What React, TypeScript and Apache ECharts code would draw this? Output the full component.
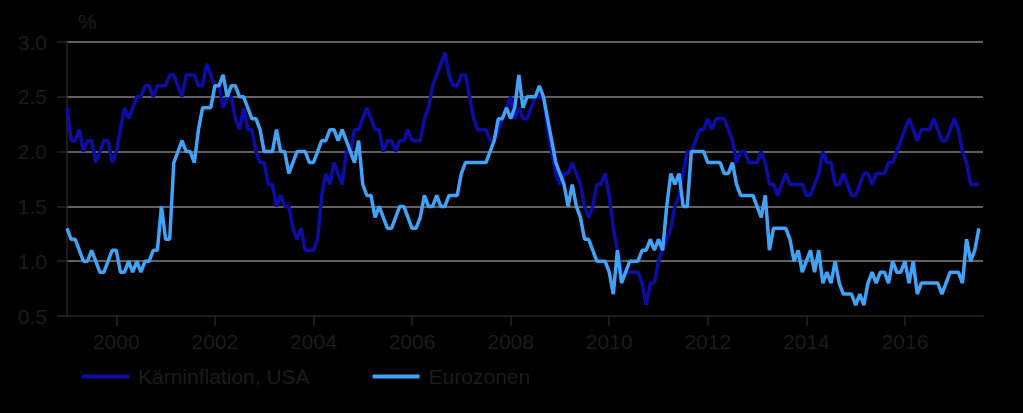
import React, { useEffect, useRef } from "react";
import * as echarts from "echarts";

// Monthly categories, Jan 1999 .. Aug 2017 (last month is empty padding)
const startYear = 1999;
const monthCount = 224;
const months: string[] = [];
for (let i = 0; i < monthCount; i++) {
  const y = startYear + Math.floor(i / 12);
  const m = (i % 12) + 1;
  months.push(`${y}-${m < 10 ? "0" + m : m}`);
}

const tickYears = ["2000", "2002", "2004", "2006", "2008", "2010", "2012", "2014", "2016"];
const yTicks = [0.5, 1.0, 1.5, 2.0, 2.5, 3.0];

const seriesNames = ["Kärninflation, USA", "Eurozonen"];

// Kärninflation, USA (% y/y), monthly from Jan 1999
const usaCore: number[] = [
  2.4, 2.1, 2.1, 2.2, 2.0, 2.1, 2.1, 1.9, 2.0, 2.1, 2.1, 1.9,
  2.0, 2.2, 2.4, 2.3, 2.4, 2.5, 2.5, 2.6, 2.6, 2.5, 2.6, 2.6,
  2.6, 2.7, 2.7, 2.6, 2.5, 2.7, 2.7, 2.7, 2.6, 2.6, 2.8, 2.7,
  2.6, 2.6, 2.4, 2.5, 2.5, 2.3, 2.2, 2.4, 2.2, 2.2, 2.0, 1.9,
  1.9, 1.7, 1.7, 1.5, 1.6, 1.5, 1.5, 1.3, 1.2, 1.3, 1.1, 1.1,
  1.1, 1.2, 1.6, 1.8, 1.7, 1.9, 1.8, 1.7, 2.0, 2.0, 2.2, 2.2,
  2.3, 2.4, 2.3, 2.2, 2.2, 2.0, 2.1, 2.1, 2.0, 2.1, 2.1, 2.2,
  2.1, 2.1, 2.1, 2.3, 2.4, 2.6, 2.7, 2.8, 2.9, 2.7, 2.6, 2.6,
  2.7, 2.7, 2.5, 2.3, 2.2, 2.2, 2.2, 2.1, 2.1, 2.2, 2.3, 2.4,
  2.5, 2.3, 2.4, 2.3, 2.3, 2.4, 2.5, 2.5, 2.5, 2.2, 2.0, 1.8,
  1.7, 1.8, 1.8, 1.9, 1.8, 1.7, 1.5, 1.4, 1.5, 1.7, 1.7, 1.8,
  1.6, 1.3, 1.1, 0.9, 0.9, 0.9, 0.9, 0.9, 0.8, 0.6, 0.8, 0.8,
  1.0, 1.1, 1.2, 1.3, 1.5, 1.6, 1.8, 2.0, 2.0, 2.1, 2.2, 2.2,
  2.3, 2.2, 2.3, 2.3, 2.3, 2.2, 2.1, 1.9, 2.0, 2.0, 1.9, 1.9,
  1.9, 2.0, 1.9, 1.7, 1.7, 1.6, 1.7, 1.8, 1.7, 1.7, 1.7, 1.7,
  1.6, 1.6, 1.7, 1.8, 2.0, 1.9, 1.9, 1.7, 1.7, 1.8, 1.7, 1.6,
  1.6, 1.7, 1.8, 1.8, 1.7, 1.8, 1.8, 1.8, 1.9, 1.9, 2.0, 2.1,
  2.2, 2.3, 2.2, 2.1, 2.2, 2.2, 2.2, 2.3, 2.2, 2.1, 2.1, 2.2,
  2.3, 2.2, 2.0, 1.9, 1.7, 1.7, 1.7,
];

// Eurozonen (% y/y), monthly from Jan 1999
const euroCore: number[] = [
  1.3, 1.2, 1.2, 1.1, 1.0, 1.0, 1.1, 1.0, 0.9, 0.9, 1.0, 1.1,
  1.1, 0.9, 0.9, 1.0, 0.9, 1.0, 0.9, 1.0, 1.0, 1.1, 1.1, 1.5,
  1.2, 1.2, 1.9, 2.0, 2.1, 2.0, 2.0, 1.9, 2.2, 2.4, 2.4, 2.4,
  2.6, 2.6, 2.7, 2.5, 2.6, 2.6, 2.5, 2.5, 2.4, 2.3, 2.3, 2.2,
  2.0, 2.0, 2.0, 2.2, 2.0, 2.0, 1.8, 1.9, 2.0, 2.0, 2.0, 1.9,
  1.9, 2.0, 2.1, 2.1, 2.2, 2.2, 2.1, 2.2, 2.1, 2.0, 1.9, 2.1,
  1.7, 1.6, 1.6, 1.4, 1.5, 1.4, 1.3, 1.3, 1.4, 1.5, 1.5, 1.4,
  1.3, 1.3, 1.4, 1.6, 1.5, 1.5, 1.6, 1.5, 1.5, 1.6, 1.6, 1.6,
  1.8, 1.9, 1.9, 1.9, 1.9, 1.9, 1.9, 2.0, 2.1, 2.3, 2.3, 2.4,
  2.3, 2.4, 2.7, 2.4, 2.5, 2.5, 2.5, 2.6, 2.5, 2.3, 2.1, 1.9,
  1.8, 1.7, 1.5, 1.7, 1.5, 1.4, 1.2, 1.2, 1.1, 1.0, 1.0, 1.0,
  0.9, 0.7, 1.1, 0.8, 0.9, 1.0, 1.0, 1.0, 1.1, 1.1, 1.2, 1.1,
  1.2, 1.1, 1.5, 1.8, 1.7, 1.8, 1.5, 1.5, 2.0, 2.0, 2.0, 2.0,
  1.9, 1.9, 1.9, 1.9, 1.8, 1.8, 1.9, 1.7, 1.6, 1.6, 1.6, 1.6,
  1.5, 1.4, 1.6, 1.1, 1.3, 1.3, 1.3, 1.3, 1.2, 1.0, 1.1, 0.9,
  1.0, 1.1, 0.9, 1.1, 0.8, 0.9, 0.8, 1.0, 0.8, 0.7, 0.7, 0.7,
  0.6, 0.7, 0.6, 0.8, 0.9, 0.8, 0.9, 0.9, 0.8, 1.0, 0.9, 0.9,
  1.0, 0.8, 1.0, 0.7, 0.8, 0.8, 0.8, 0.8, 0.8, 0.7, 0.8, 0.9,
  0.9, 0.9, 0.8, 1.2, 1.0, 1.1, 1.3,
];

const TEXT = "#1c1c1c";
const AXIS = "#262626";
const GRID = "#808080";
const DARK_BLUE = "#0c0ca6";
const LIGHT_BLUE = "#3fa3f7";
const FONT = "'Liberation Sans', Arial, sans-serif";

const isTick = (idx: number) => {
  const c = months[idx];
  return c !== undefined && c.endsWith("-01") && tickYears.includes(c.slice(0, 4));
};

export default function App() {
  const ref = useRef<HTMLDivElement>(null);

  useEffect(() => {
    document.body.style.margin = "0";
    document.body.style.background = "#000";
    if (!ref.current) return;
    const chart = echarts.init(ref.current, undefined, { renderer: "svg" });
    chart.setOption({
      animation: false,
      backgroundColor: "#000",
      textStyle: { fontFamily: FONT },
      grid: { left: 67, right: 40, top: 42, bottom: 97, containLabel: false },
      legend: {
        left: 82,
        top: 366,
        padding: 0,
        icon: "rect",
        itemWidth: 47,
        itemHeight: 4,
        itemGap: 63,
        data: seriesNames,
        textStyle: { color: TEXT, fontSize: 21, fontFamily: FONT, padding: [0, 0, 0, 4] },
      },
      xAxis: {
        type: "category",
        data: months,
        boundaryGap: false,
        axisLine: { show: true, lineStyle: { color: AXIS, width: 1.5 } },
        axisTick: { show: true, interval: (i: number) => isTick(i), length: 10, lineStyle: { color: AXIS, width: 1.5 } },
        axisLabel: {
          interval: (i: number) => isTick(i),
          formatter: (v: string) => v.slice(0, 4),
          color: TEXT,
          fontSize: 21,
          fontFamily: FONT,
          margin: 15,
        },
        splitLine: { show: false },
      },
      yAxis: {
        type: "value",
        min: yTicks[0],
        max: yTicks[yTicks.length - 1],
        interval: 0.5,
        axisLine: { show: true, lineStyle: { color: AXIS, width: 1.5 } },
        axisTick: { show: true, length: 10, lineStyle: { color: AXIS, width: 1.5 } },
        axisLabel: {
          formatter: (v: number) => v.toFixed(1),
          color: TEXT,
          fontSize: 21,
          fontFamily: FONT,
          margin: 20,
        },
        splitLine: { show: true, showMinLine: false, lineStyle: { color: GRID, width: 1.5 } },
      },
      graphic: [
        {
          type: "text",
          left: 78,
          top: 11,
          style: { text: "%", fill: TEXT, fontSize: 21, fontFamily: FONT },
        },
      ],
      series: [
        {
          name: seriesNames[0],
          type: "line",
          data: usaCore,
          showSymbol: false,
          color: DARK_BLUE,
          lineStyle: { color: DARK_BLUE, width: 3.5 },
        },
        {
          name: seriesNames[1],
          type: "line",
          data: euroCore,
          showSymbol: false,
          color: LIGHT_BLUE,
          lineStyle: { color: LIGHT_BLUE, width: 3.5 },
        },
      ],
    });
    return () => chart.dispose();
  }, []);

  return <div ref={ref} style={{ width: 1023, height: 413, background: "#000" }} />;
}
